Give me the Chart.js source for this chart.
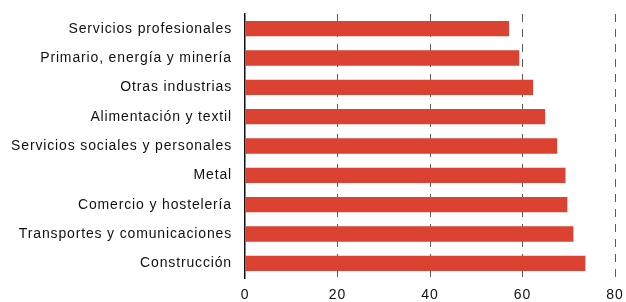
<!DOCTYPE html>
<html>
<head>
<meta charset="utf-8">
<script src="https://cdn.jsdelivr.net/npm/chart.js@4/dist/chart.umd.min.js"></script>
<style>
html,body{margin:0;padding:0;background:#fff;}
#wrap{width:626px;height:302px;position:relative;}
</style>
</head>
<body>
<div id="wrap"><canvas id="c"></canvas></div>
<script>
const categories = [
  "Servicios profesionales",
  "Primario, energía y minería",
  "Otras industrias",
  "Alimentación y textil",
  "Servicios sociales y personales",
  "Metal",
  "Comercio y hostelería",
  "Transportes y comunicaciones",
  "Construcción"
];
const values = [57.1, 59.3, 62.3, 64.9, 67.5, 69.3, 69.7, 71.0, 73.6];
const xTicks = [0, 20, 40, 60, 80];

const spacingPlugin = {
  id: 'spacing',
  beforeDraw(chart) { chart.ctx.letterSpacing = '0.85px'; }
};

new Chart(document.getElementById('c'), {
  type: 'bar',
  data: {
    labels: categories,
    datasets: [{
      data: values,
      backgroundColor: '#DB4232',
      borderWidth: 0,
      barPercentage: 0.52,
      categoryPercentage: 1.0
    }]
  },
  plugins: [spacingPlugin],
  options: {
    indexAxis: 'y',
    responsive: true,
    maintainAspectRatio: false,
    animation: false,
    layout: { padding: { top: 14, right: 11, left: 0, bottom: 0 } },
    plugins: { legend: { display: false }, tooltip: { enabled: false } },
    scales: {
      x: {
        min: xTicks[0],
        max: xTicks[xTicks.length - 1],
        afterBuildTicks(scale) { scale.ticks = xTicks.map(v => ({ value: v })); },
        afterFit(scale) {
          scale.height = 24;
          scale.paddingLeft = 0; scale.paddingRight = 0;
        },
        ticks: {
          color: '#111',
          padding: 9,
          font: { family: "'Liberation Sans', Arial, sans-serif", size: 14 }
        },
        grid: {
          drawTicks: false,
          color: (ctx) => (ctx.tick && ctx.tick.value === 0) ? 'rgba(0,0,0,0)' : '#5a5a5a',
          lineWidth: 1
        },
        border: { display: false, dash: [8, 7] }
      },
      y: {
        afterFit(scale) {
          scale.width = 245;
          scale.paddingTop = 0; scale.paddingBottom = 0;
        },
        ticks: {
          color: '#111',
          padding: 13,
          font: { family: "'Liberation Sans', Arial, sans-serif", size: 14 }
        },
        grid: { display: false, drawTicks: false },
        border: { display: true, color: '#111', width: 1.5 }
      }
    }
  }
});
</script>
</body>
</html>
